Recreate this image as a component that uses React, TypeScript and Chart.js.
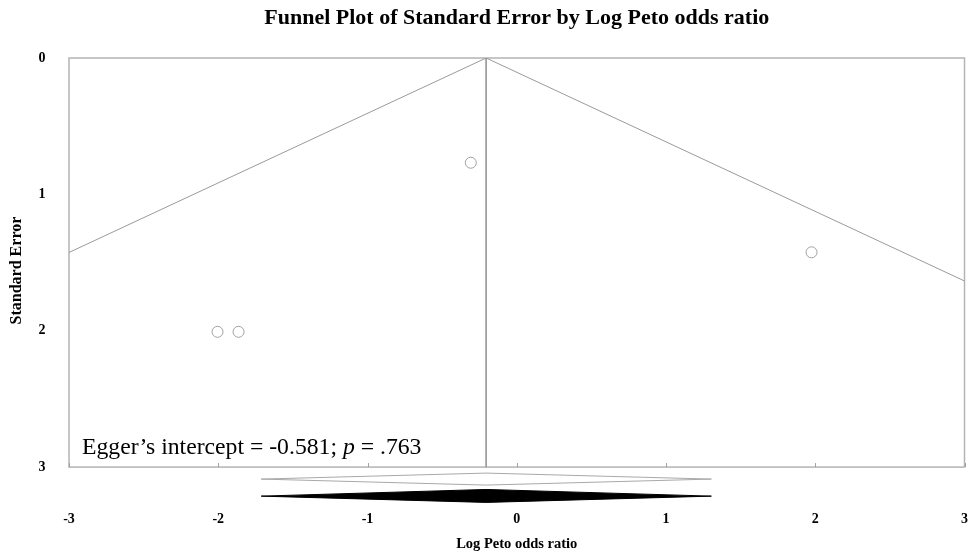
import React, { useEffect, useRef } from "react";
import { Chart, registerables } from "chart.js";

Chart.register(...registerables);

// ---- data ----
const studyEffects = [-0.308, -2.005, -1.864, 1.975];
const studySE = [0.768, 2.008, 2.008, 1.425];
const pooledEffect = -0.205;
const ciLower = -1.712;
const ciUpper = 1.304;
const xTicks = [-3, -2, -1, 0, 1, 2, 3];
const yTicks = [0, 1, 2, 3];
const seMax = 3;
const seAxisMax = 3.3;
const zCrit = 1.96;
const openDiamondSE = [3.088, 3.044, 3.088, 3.132, 3.088];
const filledDiamondSE = [3.213, 3.164, 3.213, 3.259, 3.213];
const eggerIntercept = "-0.581";
const eggerP = ".763";
const yTitle = "Standard Error";

const SERIF = '"Liberation Serif", "Times New Roman", serif';

const framePlugin = {
  id: "frame",
  beforeDatasetsDraw(chart: any) {
    const { ctx, chartArea } = chart;
    const xs = chart.scales.x;
    const ys = chart.scales.y;
    const top = ys.getPixelForValue(0);
    const bottom = ys.getPixelForValue(seMax);
    ctx.save();
    ctx.strokeStyle = "#b4b4b4";
    ctx.lineWidth = 1.5;
    ctx.strokeRect(chartArea.left, top, chartArea.right - chartArea.left, bottom - top);
    ctx.lineWidth = 1;
    ctx.strokeStyle = "#a0a0a0";
    for (const t of xTicks) {
      const px = Math.round(xs.getPixelForValue(t)) + 0.5;
      ctx.beginPath();
      ctx.moveTo(px, bottom);
      ctx.lineTo(px, bottom - 4);
      ctx.stroke();
    }
    // y axis title
    ctx.fillStyle = "#000";
    ctx.font = `bold 16px ${SERIF}`;
    ctx.textAlign = "center";
    ctx.textBaseline = "middle";
    ctx.translate(17, (top + bottom) / 2 + 8);
    ctx.rotate(-Math.PI / 2);
    ctx.fillText(yTitle, 0, 0);
    ctx.restore();
  },
};

const eggerPlugin = {
  id: "egger",
  afterDatasetsDraw(chart: any) {
    const { ctx, chartArea } = chart;
    const ys = chart.scales.y;
    ctx.save();
    ctx.fillStyle = "#000";
    ctx.textBaseline = "alphabetic";
    ctx.textAlign = "left";
    let x = chartArea.left + 13;
    const y = ys.getPixelForValue(seMax) - 13;
    const normal = `23.7px ${SERIF}`;
    const italic = `italic 23.7px ${SERIF}`;
    const parts: [string, string][] = [
      [`Egger\u2019s intercept = ${eggerIntercept}; `, normal],
      ["p", italic],
      [` = ${eggerP}`, normal],
    ];
    for (const [txt, f] of parts) {
      ctx.font = f;
      ctx.fillText(txt, x, y);
      x += ctx.measureText(txt).width;
    }
    ctx.restore();
  },
};

export default function App() {
  const ref = useRef<HTMLCanvasElement | null>(null);
  useEffect(() => {
    if (!ref.current) return;
    const gray = "#9a9a9a";
    const funnelLeft = [
      { x: pooledEffect, y: 0 },
      { x: pooledEffect - zCrit * seMax, y: seMax },
    ];
    const funnelRight = [
      { x: pooledEffect, y: 0 },
      { x: pooledEffect + zCrit * seMax, y: seMax },
    ];
    const vertical = [
      { x: pooledEffect, y: 0 },
      { x: pooledEffect, y: seMax },
    ];
    const diamondX = [ciLower, pooledEffect, ciUpper, pooledEffect, ciLower];
    const openDiamond = diamondX.map((x, i) => ({ x, y: openDiamondSE[i] }));
    const filledDiamond = diamondX.map((x, i) => ({ x, y: filledDiamondSE[i] }));
    const studies = studyEffects.map((x, i) => ({ x, y: studySE[i] }));

    const lineDs = (data: any[]) => ({
      data,
      showLine: true,
      borderColor: gray,
      borderWidth: 1,
      pointRadius: 0,
      fill: false,
      tension: 0,
    });

    const chart = new Chart(ref.current, {
      type: "scatter",
      data: {
        datasets: [
          lineDs(funnelLeft),
          lineDs(funnelRight),
          lineDs(vertical),
          {
            data: openDiamond,
            showLine: true,
            borderColor: "#a8a8a8",
            borderWidth: 1,
            backgroundColor: "#ffffff",
            fill: "shape",
            pointRadius: 0,
          } as any,
          {
            data: filledDiamond,
            showLine: true,
            borderColor: "#000000",
            borderWidth: 1,
            backgroundColor: "#000000",
            fill: "shape",
            pointRadius: 0,
          } as any,
          {
            data: studies,
            showLine: false,
            pointRadius: 5.5,
            pointStyle: "circle",
            borderColor: "#a0a0a0",
            borderWidth: 1,
            backgroundColor: "rgba(255,255,255,0)",
          },
        ],
      },
      options: {
        animation: false,
        responsive: false,
        layout: { padding: { left: 0, right: 5, top: 0, bottom: 0 } },
        plugins: {
          legend: { display: false },
          tooltip: { enabled: false },
          title: {
            display: true,
            fullSize: false,
            text: "Funnel Plot of Standard Error by Log Peto odds ratio",
            color: "#000",
            font: { family: SERIF, size: 22, weight: "bold" },
            padding: { top: 4.8, bottom: 26.8 },
          },
        },
        scales: {
          x: {
            type: "linear",
            min: -3,
            max: 3,
            afterBuildTicks: (s: any) => {
              s.ticks = xTicks.map((v) => ({ value: v }));
            },
            afterFit: (s: any) => {
              s.height = 46;
              s.paddingLeft = 0;
              s.paddingRight = 0;
            },
            grid: { display: false, drawTicks: false },
            border: { display: false },
            ticks: {
              color: "#000",
              font: { family: SERIF, size: 14, weight: "bold" },
              padding: 3,
              maxRotation: 0,
            },
            title: {
              display: true,
              text: "Log Peto odds ratio",
              color: "#000",
              font: { family: SERIF, size: 14.5, weight: "bold" },
              padding: { top: 0, bottom: 1.3 },
            },
          },
          y: {
            type: "linear",
            min: 0,
            max: seAxisMax,
            reverse: true,
            afterBuildTicks: (s: any) => {
              s.ticks = yTicks.map((v) => ({ value: v }));
            },
            afterFit: (s: any) => {
              s.width = 69;
            },
            grid: { display: false, drawTicks: false },
            border: { display: false },
            ticks: {
              color: "#000",
              font: { family: SERIF, size: 14, weight: "bold" },
              padding: 23.5,
            },
          },
        },
      },
      plugins: [framePlugin, eggerPlugin],
    } as any);
    return () => chart.destroy();
  }, []);

  return (
    <div style={{ position: "absolute", left: 0, top: 0, width: 971, height: 554, background: "#fff" }}>
      <canvas ref={ref} width={971} height={554} style={{ width: 971, height: 554, display: "block" }} />
    </div>
  );
}
